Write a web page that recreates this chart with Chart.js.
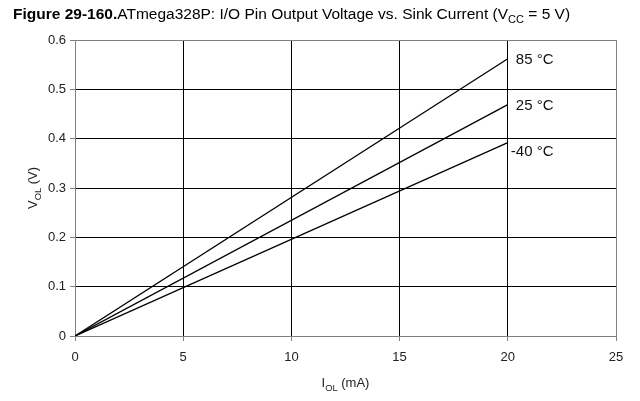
<!DOCTYPE html>
<html>
<head>
<meta charset="utf-8">
<script src="https://cdn.jsdelivr.net/npm/chart.js@4/dist/chart.umd.min.js"></script>
<style>
  html, body { margin: 0; padding: 0; background: #fff; }
  #wrap { position: relative; width: 640px; height: 401px; }
</style>
</head>
<body>
<div id="wrap"><canvas id="chart" width="640" height="401"></canvas></div>
<script>
// sink current (mA) and output voltage (V)
const currents = [0, 20];
const temps = ['85 °C', '25 °C', '-40 °C'];
const vol85 = [0, 0.562];
const vol25 = [0, 0.469];
const volM40 = [0, 0.392];

const xTicks = [0, 5, 10, 15, 20, 25];
const yTicks = [0, 0.1, 0.2, 0.3, 0.4, 0.5, 0.6];

const FONT = '"Liberation Sans", Arial, sans-serif';

function toPoints(vals) {
    return currents.map((c, i) => ({ x: c, y: vals[i] }));
}

// draws a text with a subscript part, e.g. V + OL + " (V)"
function subText(ctx, parts, x, y, size) {
    let total = 0;
    parts.forEach(p => {
        ctx.font = (p.sub ? size * 0.72 : size) + 'px ' + FONT;
        total += ctx.measureText(p.t).width;
    });
    let cx = x - total / 2;
    parts.forEach(p => {
        ctx.font = (p.sub ? size * 0.72 : size) + 'px ' + FONT;
        ctx.fillText(p.t, cx, y + (p.sub ? size * 0.3 : 0));
        cx += ctx.measureText(p.t).width;
    });
}

const extras = {
    id: 'extras',
    afterDraw(chart) {
        const ctx = chart.ctx;
        const xs = chart.scales.x, ys = chart.scales.y;
        ctx.save();
        ctx.fillStyle = '#000';
        ctx.textBaseline = 'alphabetic';

        // title
        ctx.textAlign = 'left';
        ctx.font = 'bold 15.5px ' + FONT;
        ctx.fillText('Figure 29-160.', 13, 19);
        let tx = 13 + ctx.measureText('Figure 29-160.').width;
        ctx.font = '15.5px ' + FONT;
        ctx.fillText('ATmega328P: I/O Pin Output Voltage vs. Sink Current (V', tx, 19);
        tx += ctx.measureText('ATmega328P: I/O Pin Output Voltage vs. Sink Current (V').width;
        ctx.font = '11px ' + FONT;
        ctx.fillText('CC', tx, 23);
        tx += ctx.measureText('CC').width;
        ctx.font = '15.5px ' + FONT;
        ctx.fillText(' = 5 V)', tx, 19);

        // axis titles
        ctx.fillStyle = '#222';
        subText(ctx, [{ t: 'I' }, { t: 'OL', sub: true }, { t: ' (mA)' }], (xs.left + xs.right) / 2, 387, 13);
        ctx.save();
        ctx.translate(37, (ys.top + ys.bottom) / 2);
        ctx.rotate(-Math.PI / 2);
        subText(ctx, [{ t: 'V' }, { t: 'OL', sub: true }, { t: ' (V)' }], 0, 0, 13);
        ctx.restore();

        // curve labels at the end of each line
        ctx.fillStyle = '#111';
        ctx.font = '15px ' + FONT;
        ctx.textAlign = 'left';
        ctx.textBaseline = 'middle';
        const ends = [vol85, vol25, volM40];
        temps.forEach((t, i) => {
            const last = ends[i].length - 1;
            const px = xs.getPixelForValue(currents[last]);
            const py = ys.getPixelForValue(ends[i][last]);
            const neg = t.startsWith('-');
            ctx.fillText(t, px + (neg ? 3 : 8), py + (neg ? 9 : 1));
        });
        ctx.restore();
    }
};

const lineStyle = {
    showLine: true,
    borderColor: '#000',
    borderWidth: 1.3,
    pointRadius: 0,
    fill: false
};

new Chart(document.getElementById('chart').getContext('2d'), {
    type: 'scatter',
    data: {
        datasets: [
            Object.assign({ label: temps[0], data: toPoints(vol85) }, lineStyle),
            Object.assign({ label: temps[1], data: toPoints(vol25) }, lineStyle),
            Object.assign({ label: temps[2], data: toPoints(volM40) }, lineStyle)
        ]
    },
    options: {
        responsive: false,
        animation: false,
        devicePixelRatio: 1,
        layout: { padding: { top: 40, right: 24, left: 0, bottom: 0 } },
        plugins: {
            legend: { display: false },
            tooltip: { enabled: false }
        },
        scales: {
            x: {
                type: 'linear',
                min: 0,
                max: 25,
                afterBuildTicks: s => { s.ticks = xTicks.map(v => ({ value: v })); },
                afterFit: s => { s.height = 65; },
                grid: {
                    color: c => (c.tick && (c.tick.value === 0 || c.tick.value === 25)) ? '#808080' : '#000',
                    lineWidth: 1,
                    tickLength: 5,
                    tickColor: '#808080'
                },
                border: { color: '#808080' },
                ticks: {
                    color: '#222',
                    font: { family: FONT, size: 13 },
                    padding: 9
                }
            },
            y: {
                type: 'linear',
                min: 0,
                max: 0.6,
                afterBuildTicks: s => { s.ticks = yTicks.map(v => ({ value: v })); },
                afterFit: s => { s.width = 75; },
                grid: {
                    color: c => (c.tick && (c.tick.value === 0 || c.tick.value === 0.6)) ? '#808080' : '#000',
                    lineWidth: 1,
                    tickLength: 5,
                    tickColor: '#808080'
                },
                border: { color: '#808080' },
                ticks: {
                    color: '#222',
                    font: { family: FONT, size: 13 },
                    padding: 4,
                    callback: v => String(Math.round(v * 10) / 10)
                }
            }
        }
    },
    plugins: [extras]
});
</script>
</body>
</html>
